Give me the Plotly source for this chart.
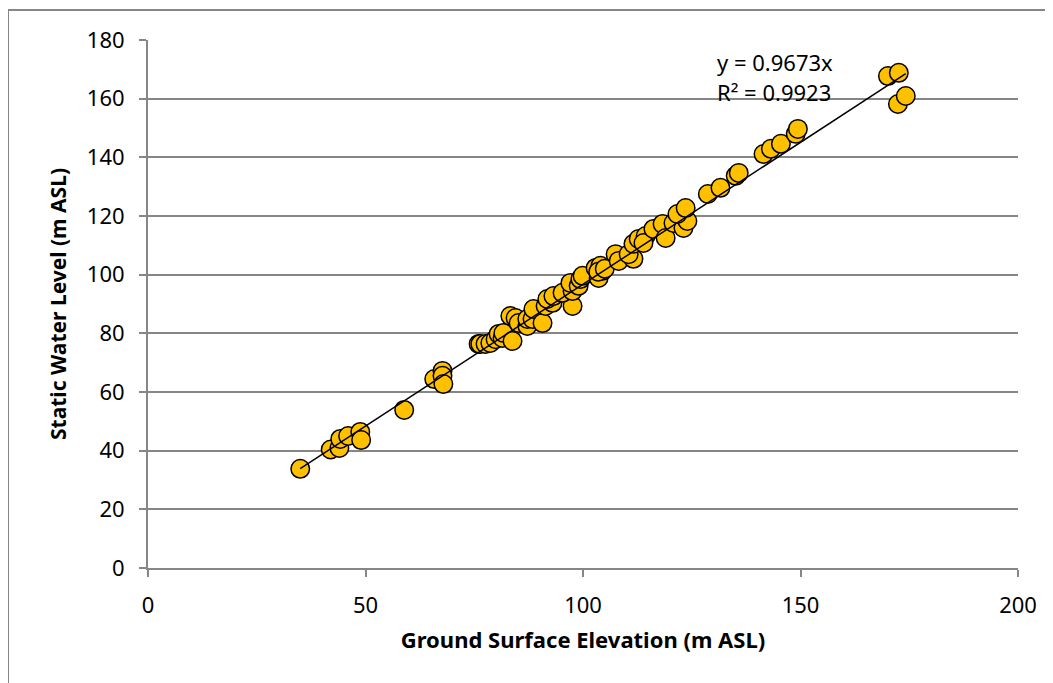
import plotly.graph_objects as go

# Ground surface elevation (m ASL)
gse = [35.0, 42.0, 44.0, 44.2, 46.0, 48.8, 49.0, 58.9, 65.8, 67.7, 67.7, 67.9,
       76.0, 76.4, 77.6, 78.7, 79.9, 80.6, 81.5, 81.7, 83.8, 83.3, 84.5, 85.2,
       87.2, 87.2, 88.4, 88.6, 90.7, 91.4, 93.0, 97.6,
       91.8, 93.2, 95.3, 97.6, 97.1, 99.0, 99.4, 99.9, 103.6, 102.9, 104.0, 104.5,
       103.5, 105.0, 107.5, 108.2, 111.6, 110.5, 111.6, 112.8, 114.4, 113.9, 116.2,
       118.3, 119.0, 120.8, 123.1, 124.0, 121.7, 123.6, 128.7, 131.6, 135.1, 135.8,
       141.5, 143.2, 145.5, 148.9, 149.4, 170.1, 172.6, 172.4, 174.2]
# Static water level (m ASL)
swl = [33.8, 40.4, 40.9, 44.0, 45.0, 46.4, 43.6, 53.9, 64.4, 67.2, 65.5, 62.7,
       76.4, 76.4, 76.4, 76.7, 78.0, 79.8, 78.4, 80.1, 77.4, 85.9, 85.2, 83.5,
       82.5, 84.9, 84.9, 88.3, 83.5, 89.3, 90.4, 89.3,
       91.7, 92.7, 93.8, 94.4, 97.2, 96.2, 98.5, 99.6, 98.9, 102.3, 103.0, 101.3,
       101.0, 102.0, 107.0, 104.7, 105.4, 107.0, 110.5, 112.2, 113.2, 110.8, 115.6,
       117.3, 112.5, 117.6, 115.9, 118.3, 120.7, 122.7, 127.5, 129.6, 133.7, 134.7,
       141.1, 142.9, 144.6, 148.0, 149.7, 167.7, 168.8, 158.2, 160.9]

slope = 0.9673
r2 = 0.9923
x_ticks = [0, 50, 100, 150, 200]
y_ticks = [0, 20, 40, 60, 80, 100, 120, 140, 160, 180]

FONT = "Noto Sans, Open Sans, sans-serif"
GRID = "#868686"

xmin, xmax = min(gse), max(gse)

fig = go.Figure()
fig.add_trace(go.Scatter(
    x=gse, y=swl, mode="markers",
    marker=dict(size=18.5, color="#FFC000", line=dict(color="black", width=1.5)),
    showlegend=False, hoverinfo="x+y"))
fig.add_trace(go.Scatter(
    x=[xmin, xmax], y=[slope * xmin, slope * xmax], mode="lines",
    line=dict(color="black", width=1.5), showlegend=False, hoverinfo="skip"))

fig.add_annotation(x=0.652, y=0.958, xref="paper", yref="paper",
                   xanchor="left", yanchor="middle", align="left", showarrow=False,
                   text=f"y = {slope}x", font=dict(family=FONT, size=22, color="black"))
fig.add_annotation(x=0.652, y=0.902, xref="paper", yref="paper",
                   xanchor="left", yanchor="middle", align="left", showarrow=False,
                   text=f"R² = {r2}", font=dict(family=FONT, size=22, color="black"))

# outer chart border
fig.add_shape(type="rect", xref="paper", yref="paper",
              x0=(7 - 147) / 870, x1=1.1, y0=-0.3, y1=1 + (39 - 9) / 528,
              line=dict(color="#868686", width=2), fillcolor="rgba(0,0,0,0)", layer="below")

fig.update_layout(
    width=1053, height=683,
    margin=dict(l=140, r=43, t=32, b=123),
    paper_bgcolor="white", plot_bgcolor="white",
    font=dict(family=FONT, size=22, color="black"),
    xaxis=dict(range=[0, 200], tickvals=x_ticks, showgrid=False, zeroline=False,
               showline=True, linecolor=GRID, linewidth=2,
               ticks="outside", ticklen=7, tickcolor=GRID, tickwidth=1.5,
               ticklabelstandoff=10,
               tickfont=dict(family=FONT, size=22),
               title=dict(text="<b>Ground Surface Elevation (m ASL)</b>",
                          font=dict(family=FONT, size=22), standoff=14)),
    yaxis=dict(range=[0, 180], tickvals=y_ticks, showgrid=True, gridcolor=GRID,
               gridwidth=1.5, zeroline=False, showline=True, linecolor=GRID, linewidth=2,
               ticks="outside", ticklen=7, tickcolor=GRID, tickwidth=1.5,
               ticklabelstandoff=10,
               tickfont=dict(family=FONT, size=22),
               title=dict(text="<b>Static Water Level (m ASL)</b>",
                          font=dict(family=FONT, size=21), standoff=14)),
)

fig.write_html("out.html")
